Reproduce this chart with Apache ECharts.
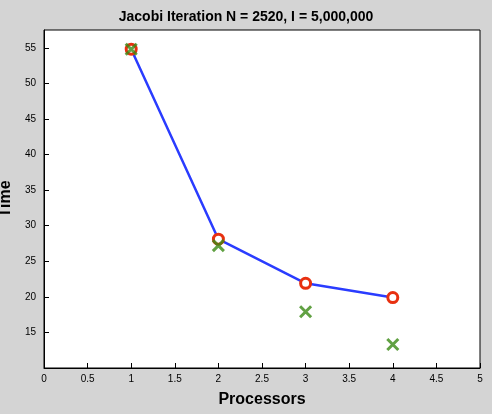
<!DOCTYPE html><html><head><meta charset="utf-8"><script src="https://cdn.jsdelivr.net/npm/echarts@6/dist/echarts.min.js"></script>
<style>html,body{margin:0;background:#d4d4d4}#c{width:492px;height:414px}</style></head><body><div id="c"></div><script>
const processors=[1,2,3,4];
const measured=[54.8,28.1,21.9,19.9];
const ideal=[54.8,27.2,17.9,13.3];
const chart=echarts.init(document.getElementById('c'));
const f='Liberation Sans, Arial, sans-serif';
chart.setOption({backgroundColor:'#d4d4d4',animation:false,
title:{text:'Jacobi Iteration N = 2520, I = 5,000,000',left:'center',top:5,textStyle:{fontFamily:f,fontSize:14,fontWeight:'bold',color:'#000'}},
grid:{left:44,right:12,top:30,bottom:46,containLabel:false,outerBoundsMode:'none',show:true,backgroundColor:'#fff',borderColor:'#000',borderWidth:1},
xAxis:{type:'value',min:0,max:5,interval:0.5,name:'Processors',nameLocation:'middle',nameGap:24,nameTextStyle:{fontFamily:f,fontSize:16,fontWeight:'bold',color:'#000'},
axisLine:{lineStyle:{color:'#000'}},axisTick:{inside:true,lineStyle:{color:'#000'}},splitLine:{show:false},axisLabel:{fontFamily:f,fontSize:10,color:'#000',margin:6}},
yAxis:{type:'value',min:10,max:57.5,interval:5,name:'Time',nameLocation:'middle',nameGap:24,nameTextStyle:{fontFamily:f,fontSize:16,fontWeight:'bold',color:'#000'},
axisLine:{lineStyle:{color:'#000'}},axisTick:{inside:true,lineStyle:{color:'#000'}},splitLine:{show:false},
axisLabel:{fontFamily:f,fontSize:10,color:'#000',showMinLabel:false,showMaxLabel:false,formatter:v=>((v===10||v%5!==0)?'':v)}},
series:[
{type:'line',data:processors.map((p,i)=>[p,measured[i]]),lineStyle:{color:'#2a3cff',width:2.5},symbol:'circle',symbolSize:10,itemStyle:{color:'#fff',borderColor:'#e83010',borderWidth:3},z:3},
{type:'scatter',data:processors.map((p,i)=>[p,ideal[i]]),symbol:'path://M0,0L10,10M10,0L0,10',symbolSize:11,itemStyle:{color:'none',borderColor:'#3a8a14',borderWidth:3},z:4}
]});
</script></body></html>
